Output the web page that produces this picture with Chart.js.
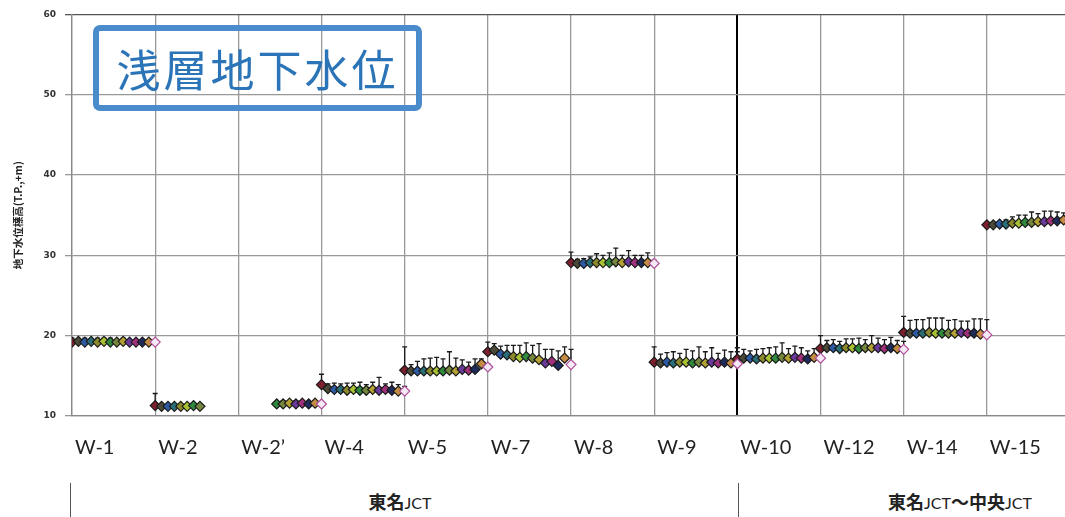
<!DOCTYPE html>
<html>
<head>
<meta charset="utf-8">
<script src="https://cdn.jsdelivr.net/npm/chart.js@4"></script>
<style>
    html, body { margin: 0; padding: 0; background: #fff; overflow: hidden; width: 1065px; height: 517px; }
    #wrap { position: relative; width: 1065px; height: 517px; }
    #chart { position: absolute; left: 0; top: 0; }
    .title-box {
        position: absolute; left: 93px; top: 25px; width: 317px; height: 74px;
        border: 6px solid #4a8bcb; border-radius: 7px;
        font-family: "Noto Sans CJK JP", sans-serif; font-size: 44px; color: #2b74b8;
        text-align: center; line-height: 74px; letter-spacing: 3px;
    }
    .section-line { position: absolute; top: 483px; width: 0; height: 40px; border-left: 1.5px solid #555; }
    .section-label {
        position: absolute; top: 488px; transform: translateX(-50%); white-space: nowrap;
        font-family: "Noto Sans CJK JP", sans-serif; font-size: 18px; font-weight: bold; color: #222;
    }
    .section-label small { font-family: "Liberation Sans Narrow", "Lato", sans-serif; font-size: 16px; font-weight: normal; }
</style>
</head>
<body>
<div id="wrap">
    <canvas id="chart" width="1090" height="470"></canvas>
    <div class="title-box">浅層地下水位</div>
    <div class="section-line" style="left:70px"></div>
    <div class="section-line" style="left:738px"></div>
    <div class="section-label" style="left:400px">東名<small>JCT</small></div>
    <div class="section-label" style="left:960px">東名<small>JCT</small>〜中央<small>JCT</small></div>
</div>
<script>
// well names along the x axis
const wellLabels = ["W-1", "W-2", "W-2’", "W-4", "W-5", "W-7", "W-8", "W-9", "W-10", "W-12", "W-14", "W-15"];

// groundwater level (T.P.+m), 14 survey slots per well (null = not measured)
const levelW1 = [19.2, 19.3, 19.2, 19.3, 19.2, 19.3, 19.2, 19.2, 19.3, 19.2, 19.2, 19.2, 19.2, 19.2];
const levelW2 = [11.3, 11.2, 11.2, 11.2, 11.2, 11.2, 11.3, 11.2, null, null, null, null, null, null];
const levelW2d = [null, null, null, null, null, null, 11.5, 11.5, 11.6, 11.5, 11.6, 11.5, 11.6, 11.5];
const levelW4 = [13.9, 13.4, 13.3, 13.3, 13.2, 13.3, 13.2, 13.2, 13.3, 13.2, 13.3, 13.2, 13.1, 13.1];
const levelW5 = [15.7, 15.6, 15.6, 15.6, 15.6, 15.6, 15.6, 15.7, 15.6, 15.8, 15.7, 15.8, 16.5, 16.1];
const levelW7 = [18.0, 18.2, 17.7, 17.6, 17.4, 17.3, 17.4, 17.2, 17.0, 16.6, 16.8, 16.3, 17.2, 16.4];
const levelW8 = [29.1, 29.0, 29.0, 29.1, 29.1, 29.1, 29.1, 29.2, 29.1, 29.2, 29.1, 29.1, 29.1, 29.0];
const levelW9 = [16.7, 16.6, 16.7, 16.6, 16.7, 16.7, 16.6, 16.7, 16.6, 16.7, 16.6, 16.7, 16.6, 16.5];
const levelW10 = [17.1, 17.2, 17.2, 17.1, 17.2, 17.2, 17.2, 17.3, 17.2, 17.3, 17.2, 17.1, 17.3, 17.2];
const levelW12 = [18.4, 18.5, 18.5, 18.4, 18.5, 18.5, 18.4, 18.5, 18.5, 18.5, 18.4, 18.5, 18.4, 18.3];
const levelW14 = [20.4, 20.3, 20.3, 20.3, 20.4, 20.3, 20.3, 20.3, 20.3, 20.4, 20.3, 20.3, 20.2, 20.1];
const levelW15 = [33.8, 33.8, 33.9, 33.9, 34.0, 34.0, 34.1, 34.1, 34.2, 34.2, 34.3, 34.3, 34.4, 34.4];

// upper range (max - value) shown as error whiskers
const rangeW1 = [0.5, 0.3, 0.5, 0.3, 0.5, 0.4, 0.5, 0.3, 0.4, 0.3, 0.3, 0.3, 0.2, 0.2];
const rangeW2 = [1.5, 0.2, 0.2, 0.2, 0.2, 0.2, 0.2, 0.2, null, null, null, null, null, null];
const rangeW2d = [null, null, null, null, null, null, 0.3, 0.4, 0.3, 0.4, 0.3, 0.3, 0.3, 0.2];
const rangeW4 = [1.3, 0.6, 0.8, 0.7, 0.9, 0.8, 1.0, 0.7, 0.9, 1.6, 0.7, 1.0, 0.8, 0.6];
const rangeW5 = [2.9, 0.8, 1.2, 1.5, 1.6, 1.7, 1.5, 2.3, 1.6, 1.2, 1.0, 1.3, 0.6, 0.4];
const rangeW7 = [1.2, 0.8, 1.0, 1.2, 1.4, 1.5, 1.7, 1.6, 2.0, 1.7, 1.5, 1.8, 1.4, 1.9];
const rangeW8 = [1.3, 0.5, 0.6, 0.7, 1.1, 0.9, 1.2, 1.7, 0.9, 1.4, 0.9, 0.9, 1.2, 0.4];
const rangeW9 = [1.9, 1.1, 1.2, 1.4, 1.1, 1.6, 1.5, 1.9, 1.4, 1.8, 1.2, 1.5, 1.4, 1.5];
const rangeW10 = [1.4, 1.1, 0.9, 1.2, 1.2, 1.3, 1.4, 1.8, 1.2, 1.4, 1.3, 1.0, 1.1, 0.9];
const rangeW12 = [1.6, 0.9, 1.0, 0.9, 1.1, 1.1, 1.3, 1.0, 1.5, 1.2, 1.1, 1.3, 1.0, 1.0];
const rangeW14 = [2.0, 1.6, 1.7, 1.7, 1.8, 1.9, 1.9, 1.6, 1.7, 1.4, 1.5, 1.8, 1.9, 1.9];
const rangeW15 = [0.2, 0.3, 0.3, 0.5, 0.8, 1.0, 0.9, 1.3, 1.0, 1.3, 1.2, 1.1, 0.9, 1.0];

const yTicks = [10, 20, 30, 40, 50, 60];

const levels = [levelW1, levelW2, levelW2d, levelW4, levelW5, levelW7, levelW8, levelW9, levelW10, levelW12, levelW14, levelW15];
const ranges = [rangeW1, rangeW2, rangeW2d, rangeW4, rangeW5, rangeW7, rangeW8, rangeW9, rangeW10, rangeW12, rangeW14, rangeW15];

// one marker colour per survey slot
const slotColors = ["#7d1f2c", "#4b4a38", "#2d5ba3", "#2a6e78", "#8c8a2c", "#a9c233", "#2f8a3f", "#75863f",
                    "#b3a233", "#6a3a9c", "#a1307c", "#1f2b5c", "#c48b42", "#f5e9f5"];

const SLOTS = 14;

const datasets = levels.map((vals, g) => ({
    label: wellLabels[g],
    data: vals.map((v, k) => ({ x: g + k / (SLOTS - 1), y: v })),
    errors: ranges[g],
    pointStyle: "rectRot",
    pointRadius: 5,
    pointBorderWidth: 1.2,
    backgroundColor: ctx => slotColors[ctx.dataIndex % SLOTS],
    borderColor: ctx => (ctx.dataIndex === SLOTS - 1 ? "#b0509a" : "#1a1a1a"),
    showLine: false
}));

// draws the upper whisker of each point behind the markers
const errorBars = {
    id: "errorBars",
    beforeDatasetsDraw(chart) {
        const { ctx, scales: { x, y }, chartArea } = chart;
        ctx.save();
        ctx.beginPath();
        ctx.rect(chartArea.left, chartArea.top, chartArea.width, chartArea.height);
        ctx.clip();
        ctx.strokeStyle = "#1a1a1a";
        ctx.lineWidth = 1.3;
        chart.data.datasets.forEach(ds => {
            ds.data.forEach((p, i) => {
                const e = ds.errors[i];
                if (p.y == null || e == null) return;
                const px = x.getPixelForValue(p.x);
                const y0 = y.getPixelForValue(p.y);
                const y1 = y.getPixelForValue(p.y + e);
                ctx.beginPath();
                ctx.moveTo(px, y0);
                ctx.lineTo(px, y1);
                ctx.moveTo(px - 2.5, y1);
                ctx.lineTo(px + 2.5, y1);
                ctx.stroke();
            });
        });
        ctx.restore();
    }
};

new Chart(document.getElementById("chart"), {
    type: "scatter",
    data: { datasets },
    options: {
        responsive: false,
        animation: false,
        layout: { padding: { left: 0, right: 12, top: 14, bottom: 0 } },
        plugins: { legend: { display: false }, tooltip: { enabled: false } },
        scales: {
            x: {
                type: "linear",
                min: 0,
                max: wellLabels.length,
                afterBuildTicks: scale => { scale.ticks = wellLabels.concat([""]).map((_, i) => ({ value: i })); },
                afterFit: scale => { scale.height = 54; },
                grid: {
                    drawTicks: false,
                    color: ctx => (ctx.tick && ctx.tick.value === 8 ? "#000" : "#999"),
                    lineWidth: ctx => (ctx.tick && ctx.tick.value === 8 ? 2 : 1.3)
                },
                border: { color: "#888", width: 1.3 },
                ticks: {
                    autoSkip: false,
                    maxRotation: 0,
                    align: "start",
                    labelOffset: 3,
                    padding: 20,
                    color: "#222",
                    font: { family: "Lato", size: 20 },
                    callback: v => wellLabels[v] ?? ""
                }
            },
            y: {
                min: 10,
                max: 60,
                afterBuildTicks: scale => { scale.ticks = yTicks.map(v => ({ value: v })); },
                afterFit: scale => { scale.width = 72; },
                grid: {
                    tickLength: 7,
                    color: ctx => (ctx.tick && ctx.tick.value === 60 ? "#555" : "#999"),
                    lineWidth: 1.3
                },
                border: { color: "#888", width: 1.3 },
                ticks: {
                    padding: 9,
                    color: "#333",
                    font: { family: "DejaVu Sans", size: 9, weight: "bold" }
                },
                title: {
                    display: true,
                    text: "地下水位標高(T.P.,+m)",
                    color: "#222",
                    padding: { top: 12, bottom: 0 },
                    font: { family: "Noto Sans CJK JP", size: 10.5, weight: "bold" }
                }
            }
        }
    },
    plugins: [errorBars]
});
</script>
</body>
</html>
